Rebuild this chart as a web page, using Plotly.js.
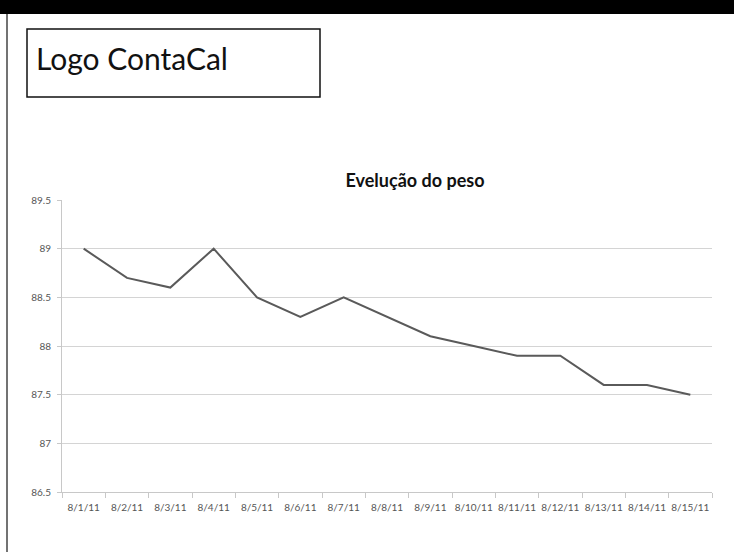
<!DOCTYPE html>
<html>
<head>
<meta charset="utf-8">
<script src="https://cdn.plot.ly/plotly-3.0.1.min.js"></script>
<style>html,body{margin:0;padding:0;background:#fff;}#chart{width:734px;height:552px;}</style>
</head>
<body>
<div id="chart"></div>
<script>
var dates = ["8/1/11","8/2/11","8/3/11","8/4/11","8/5/11","8/6/11","8/7/11","8/8/11","8/9/11","8/10/11","8/11/11","8/12/11","8/13/11","8/14/11","8/15/11"];
var peso = [89, 88.7, 88.6, 89, 88.5, 88.3, 88.5, 88.3, 88.1, 88.0, 87.9, 87.9, 87.6, 87.6, 87.5];
var chartTitle = "Evelução do peso";
var logoText = "Logo ContaCal";

var W = 734, H = 552;
function px(x){return x / W;}
function py(y){return 1 - y / H;}

var trace = {
  x: dates, y: peso, type: "scatter", mode: "lines",
  line: {color: "#5a5a5a", width: 2}, hoverinfo: "skip"
};

var layout = {
  width: W, height: H,
  margin: {l: 0, r: 0, t: 0, b: 0},
  paper_bgcolor: "#fff", plot_bgcolor: "#fff",
  showlegend: false,
  font: {family: "Lato, 'Open Sans', sans-serif", color: "#555"},
  title: {text: chartTitle, x: px(415), y: py(181), xanchor: "center", yanchor: "middle",
          font: {family: "Lato, sans-serif", size: 18, color: "#111", weight: "bold"}},
  xaxis: {
    domain: [px(62), px(712)], type: "category", range: [-0.5, 14.5],
    showgrid: false, showline: true, linecolor: "#c8c8c8", linewidth: 1,
    ticks: "outside", tickson: "boundaries", ticklen: 5, tickcolor: "#c8c8c8",
    ticklabelstandoff: 6, tickangle: 0,
    tickfont: {size: 10, color: "#555"}, fixedrange: true
  },
  yaxis: {
    domain: [py(492), py(200)], range: [86.5, 89.5], dtick: 0.5, tick0: 86.5,
    showgrid: true, gridcolor: "#d4d4d4", gridwidth: 1,
    showline: true, linecolor: "#c8c8c8", linewidth: 1,
    ticks: "outside", ticklen: 4, tickcolor: "#c8c8c8",
    ticklabelstandoff: 4,
    tickfont: {size: 10, color: "#555"}, zeroline: false, fixedrange: true
  },
  shapes: [
    {type: "rect", xref: "paper", yref: "paper", x0: 0, x1: 1, y0: py(14), y1: 1,
     fillcolor: "#000", line: {width: 0}},
    {type: "line", xref: "paper", yref: "paper", x0: px(7), x1: px(7), y0: 0, y1: py(14),
     line: {color: "#444", width: 1.5}},
    {type: "rect", xref: "paper", yref: "paper", x0: px(27), x1: px(320), y0: py(97), y1: py(29),
     fillcolor: "rgba(0,0,0,0)", line: {color: "#111", width: 1.5}}
  ],
  annotations: [
    {text: logoText, xref: "paper", yref: "paper", x: px(34), y: py(58), xanchor: "left", yanchor: "middle",
     showarrow: false, font: {family: "Lato, sans-serif", size: 30, color: "#111"}}
  ]
};

Plotly.newPlot("chart", [trace], layout, {displayModeBar: false, staticPlot: true});
</script>
</body>
</html>
